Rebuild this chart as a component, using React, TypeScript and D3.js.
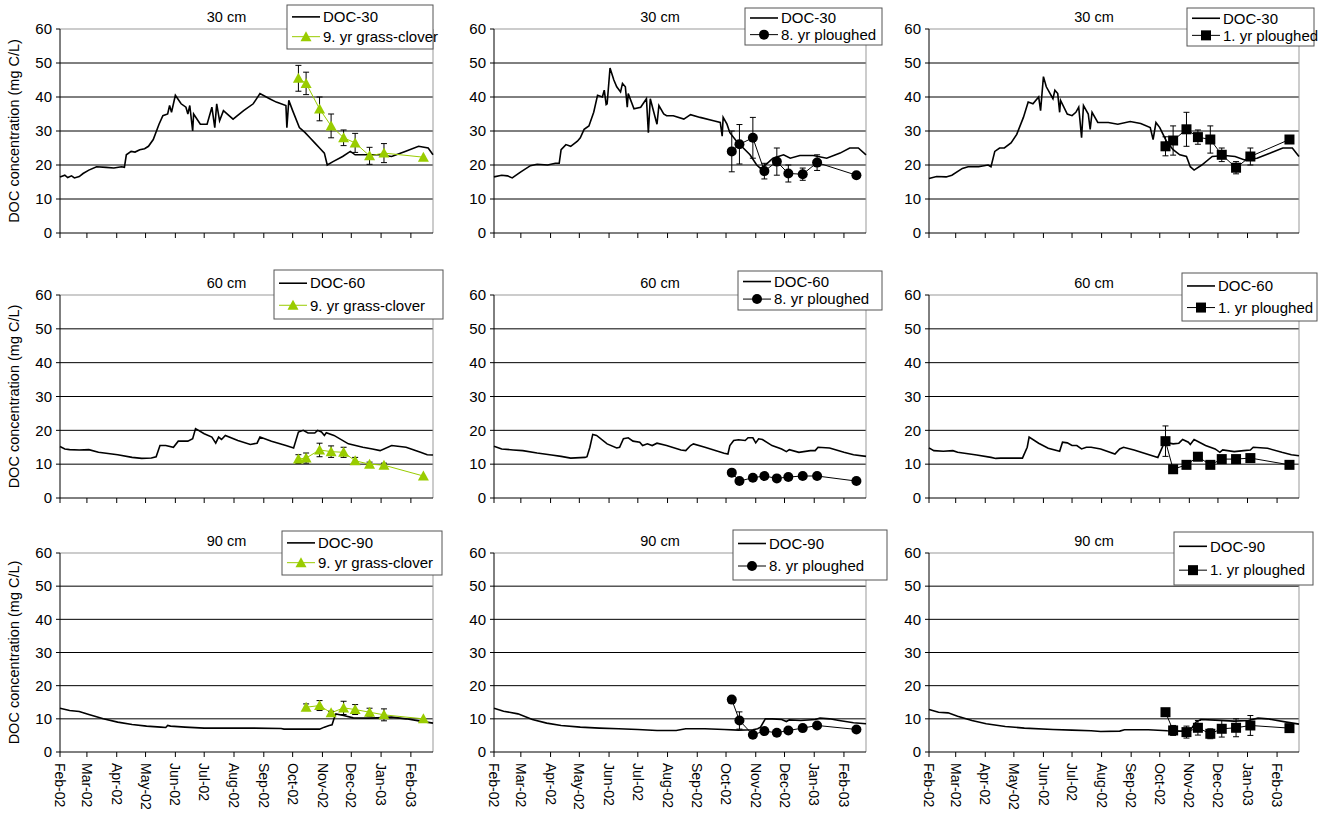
import React from 'react';
import * as d3 from 'd3';

// day offsets from 1 Feb 2002
const sampleDays = [248, 256, 270, 282, 295, 307, 322, 337, 378];
const monthLabels = ['Feb-02', 'Mar-02', 'Apr-02', 'May-02', 'Jun-02', 'Jul-02', 'Aug-02', 'Sep-02', 'Oct-02', 'Nov-02', 'Dec-02', 'Jan-03', 'Feb-03'];
const depths = ['30 cm', '60 cm', '90 cm'];
const treatments = ['9. yr grass-clover', '8. yr ploughed', '1. yr ploughed'];

// [day, value] DOC series per panel (row = depth, col = treatment plot)
const doc30a = [[0,16.5],[5,17],[8,16.3],[12,16.8],[15,16.2],[20,16.6],[24,17.5],[30,18.5],[38,19.5],[48,19.3],[56,19.1],[64,19.5],[67,19.3],[69,23],[74,24],[78,23.8],[83,24.5],[88,24.8],[92,25.5],[97,27.5],[103,32],[107,34.5],[112,35],[114,37.5],[116,35.5],[120,40.5],[126,38],[131,37],[133,35],[135,37.5],[138,30],[139,35],[146,32],[153,32],[158,37],[161,31],[163,38],[166,33],[170,36],[180,33.5],[191,36],[201,38],[208,41],[218,39.5],[225,38.5],[235,37.5],[236,31],[238,39],[242,36],[249,31],[255,29.5],[260,28],[265,26.5],[270,25],[275,23.5],[278,20],[284,21],[294,22.5],[302,24],[307,23],[318,23],[332,23],[345,22.5],[359,24],[373,25.5],[383,25],[388,23]];
const doc30b = [[0,16.5],[8,17],[14,16.8],[19,16.2],[28,18],[38,19.8],[45,20.2],[56,20],[64,20.5],[68,20.5],[70,24.5],[75,26],[80,25.5],[87,27],[90,28],[94,30.5],[99,31.5],[104,35.5],[108,40.5],[113,40],[115,42],[117,37.8],[118,38],[121,48.5],[125,45],[128,43],[132,41.5],[134,44],[137,43],[139,37],[140,41],[146,36.5],[153,37],[159,39.5],[161,29.5],[163,39.5],[169,33],[170,32],[172,37.5],[177,35],[180,34.5],[187,34.5],[198,33.5],[205,34.8],[215,34],[229,33],[236,32.5],[238,28.5],[239,34],[243,32],[246,29.5],[253,27],[260,25],[267,23],[274,20],[278,19],[283,20],[291,22],[302,23],[309,22],[319,22.8],[333,22.8],[347,22],[361,23.5],[371,25],[380,25],[388,23]];
const doc30c = [[0,16],[8,16.6],[18,16.5],[24,17],[35,19],[41,19.5],[52,19.5],[62,20],[65,19.5],[69,24],[74,25],[79,25],[86,26.5],[92,29],[99,34],[104,38.5],[109,38],[115,40],[117,36],[120,46],[123,43],[130,39.5],[132,42],[135,41],[137,35.5],[138,39],[145,35],[150,34.5],[154,35.5],[157,37],[160,28],[162,37.5],[167,35],[169,30.5],[171,35.5],[177,32.5],[188,32.5],[198,32],[211,32.8],[222,32.2],[232,31],[235,27.5],[238,32.5],[242,31],[249,27],[256,24.5],[263,23],[270,22.5],[274,19.5],[278,18.5],[286,20],[297,22.5],[310,22.8],[321,22.5],[331,21.5],[344,22],[358,23.5],[371,25],[381,25],[388,22.5]];
const doc60a = [[0,15.2],[5,14.5],[10,14.3],[20,14.2],[30,14.3],[40,13.5],[60,12.8],[75,12],[85,11.7],[95,11.8],[100,12.2],[104,15.5],[110,15.5],[118,15],[123,16.8],[133,16.8],[138,17.5],[141,20.5],[150,19],[158,18],[162,16.2],[165,18],[168,17.3],[172,18.5],[185,17],[198,15.8],[205,16.2],[208,18],[220,16.8],[235,15.5],[243,14.8],[248,19.5],[253,20],[258,19.2],[265,19.2],[268,20],[272,19.5],[275,18.5],[277,19.3],[285,18.5],[300,16],[315,15],[325,14.5],[333,14],[345,15.5],[360,15],[375,13.5],[382,12.8],[388,12.7]];
const doc60b = [[0,15.3],[8,14.5],[20,14.2],[30,14],[45,13.3],[60,12.7],[70,12.3],[80,11.8],[95,12],[97,12.2],[100,15],[103,18.8],[107,18.5],[118,16],[128,14.8],[131,15],[135,17.5],[140,17.8],[145,16.8],[152,16.5],[155,15.5],[160,16],[165,15.5],[170,16.2],[180,15.5],[195,14.2],[200,14],[205,15.5],[208,16],[220,15],[240,13.2],[244,13],[246,15.5],[250,17],[255,17.2],[262,17],[265,17.8],[270,17.8],[273,16.3],[276,17.5],[280,17.3],[290,15.5],[300,14.5],[305,13.7],[308,14.3],[318,13.5],[330,14],[335,14],[338,15],[350,14.8],[365,13.5],[375,12.8],[388,12.3]];
const doc60c = [[0,14.8],[5,14],[15,13.8],[25,14],[30,13.5],[50,12.7],[65,12],[70,11.7],[75,11.8],[98,11.8],[103,15],[105,18],[115,16.2],[125,14.7],[137,13.8],[140,16.5],[145,16.3],[150,15.5],[155,15.5],[160,14.5],[165,15],[170,15],[180,14.5],[195,13],[200,14.5],[204,15],[215,14.2],[240,12],[247,16.5],[256,16],[262,16.2],[266,17.3],[272,16.5],[274,15.8],[278,17.3],[290,15.5],[300,14.5],[305,13.5],[308,14.2],[320,13.7],[330,14],[337,14.2],[340,15],[355,14.7],[370,13.5],[380,12.8],[388,12.5]];
const doc90a = [[0,13.2],[10,12.5],[20,12.2],[30,11.3],[45,10],[60,9],[75,8.3],[90,7.8],[105,7.5],[110,7.4],[112,8],[115,7.8],[130,7.5],[150,7.2],[200,7.2],[230,7.1],[233,6.9],[270,6.9],[275,7.5],[280,8],[283,8.2],[285,10],[287,11.5],[295,11],[305,10.3],[320,10.2],[330,10.3],[345,10.5],[360,10],[375,9.3],[388,8.7]];
const doc90b = [[0,13.2],[10,12.3],[25,11.5],[40,9.8],[55,8.7],[70,8],[90,7.5],[110,7.2],[130,7],[150,6.8],[170,6.5],[190,6.5],[200,7],[220,7],[240,6.8],[255,6.6],[270,6.7],[275,7],[278,7.5],[283,10],[290,10],[300,9.8],[305,9.2],[308,9.7],[320,9.5],[335,9.8],[340,10.2],[350,10],[360,9.5],[375,8.8],[388,8.5]];
const doc90c = [[0,12.8],[10,12],[20,11.8],[30,10.8],[45,9.5],[60,8.5],[80,7.7],[100,7.2],[130,6.8],[150,6.6],[170,6.4],[180,6.2],[200,6.3],[205,6.7],[230,6.7],[250,6.4],[265,6.3],[275,7],[280,9],[285,9.8],[300,9.6],[320,9.3],[335,9.5],[345,10.2],[355,10],[375,9],[388,8.4]];

// measured values and half error bars, aligned with sampleDays (null = no sample)
const grass30 = [45.5, 44, 36.5, 31.5, 28, 26.5, 22.7, 23.5, 22.3];
const grass30Err = [3.8, 3.3, 3.5, 3.5, 2.3, 2.8, 2.5, 2.8, 0];
const grass60 = [11.5, 11.8, 14.2, 13.7, 13.5, 11, 10, 9.7, 6.5];
const grass60Err = [1.3, 1.5, 2, 1.7, 1.5, 1, 0.6, 0.6, 0];
const grass90 = [null, 13.5, 14, 11.8, 13.3, 12.8, 12, 11.2, 10];
const grass90Err = [0, 1, 1.5, 0.5, 2, 1.5, 1.2, 1.8, 0];
const plough8_30 = [24, 26.1, 28, 18.2, 21, 17.5, 17.3, 20.7, 17];
const plough8_30Err = [6, 5.8, 6, 2.3, 4, 2.5, 1.8, 2.3, 0];
const plough8_60 = [7.5, 5, 6, 6.5, 5.8, 6.2, 6.5, 6.5, 5];
const plough8_60Err = [0, 0, 0, 0, 0, 0, 0, 0, 0];
const plough8_90 = [15.8, 9.5, 5.2, 6.3, 5.8, 6.5, 7.2, 8, 6.8];
const plough8_90Err = [0, 2.6, 0, 0, 0, 0, 0, 0, 0];
const plough1_30 = [25.5, 27.2, 30.5, 28.2, 27.5, 23, 19.2, 22.5, 27.5];
const plough1_30Err = [2.8, 4.3, 5, 2.1, 4, 2, 1.8, 2.5, 0];
const plough1_60 = [16.8, 8.5, 9.8, 12.2, 9.8, 11.5, 11.5, 11.8, 9.8];
const plough1_60Err = [4.5, 0, 0, 0, 0, 0, 0, 0, 0];
const plough1_90 = [12, 6.5, 6, 7.3, 5.5, 7, 7.3, 8, 7.2];
const plough1_90Err = [0, 1.5, 1.8, 2.2, 1.5, 2.5, 2.7, 3, 1];

const docSeries = [[doc30a, doc30b, doc30c], [doc60a, doc60b, doc60c], [doc90a, doc90b, doc90c]];
const obsSeries = [[grass30, plough8_30, plough1_30], [grass60, plough8_60, plough1_60], [grass90, plough8_90, plough1_90]];
const obsErr = [[grass30Err, plough8_30Err, plough1_30Err], [grass60Err, plough8_60Err, plough1_60Err], [grass90Err, plough8_90Err, plough1_90Err]];

// layout
const colX = [[60, 433], [494, 866], [929, 1299]];
const rowY = [[29, 233], [295, 498], [553, 752]];
const legendBox = [
  [[287, 5, 146, 44], [745, 8, 137, 37], [1187, 8, 127, 38]],
  [[274, 270, 169, 49], [738, 271, 144, 39], [1182, 273, 135, 48]],
  [[282, 531, 160, 44], [733, 530, 154, 50], [1174, 532, 139, 53]],
];
const green = '#99cc00';
const font = 'Liberation Sans, Arial, sans-serif';
const t0 = Date.UTC(2002, 1, 1);
const day = (d: number) => new Date(t0 + d * 86400000);

function Marker({ kind, x, y }: { kind: number; x: number; y: number }) {
  if (kind === 0) return <path d={`M${x},${y - 5.5}L${x + 5.5},${y + 4.5}L${x - 5.5},${y + 4.5}Z`} fill={green} />;
  if (kind === 1) return <circle cx={x} cy={y} r={5} fill="#000" />;
  return <rect x={x - 5} y={y - 5} width={10} height={10} fill="#000" />;
}

function Panel({ r, c }: { r: number; c: number }) {
  const [x0, x1] = colX[c];
  const [y0, y1] = rowY[r];
  const x = d3.scaleUtc().domain([day(0), day(388)]).range([x0, x1]);
  const y = d3.scaleLinear().domain([0, 60]).range([y1, y0]);
  const months = d3.utcMonth.range(day(0), day(389));
  const line = d3.line<number[]>().x(d => x(day(d[0]))).y(d => y(d[1]));
  const obs = sampleDays.map((d, i) => ({ d, v: obsSeries[r][c][i], e: obsErr[r][c][i] })).filter(o => o.v != null) as { d: number; v: number; e: number }[];
  const obsLine = d3.line<{ d: number; v: number }>().x(o => x(day(o.d))).y(o => y(o.v));
  const col = c === 0 ? green : '#000';
  const [lx, ly, lw, lh] = legendBox[r][c];
  return (
    <g fontFamily={font}>
      {y.ticks(6).filter(t => t > 0 && t < 60).map(t => (
        <line key={t} x1={x0} x2={x1} y1={y(t)} y2={y(t)} stroke="#000" strokeWidth={1} />
      ))}
      <line x1={x0} x2={x1} y1={y0} y2={y0} stroke="#999" />
      <line x1={x1} x2={x1} y1={y0} y2={y1} stroke="#999" />
      <line x1={x0} x2={x0} y1={y0} y2={y1} stroke="#000" />
      <line x1={x0} x2={x1} y1={y1} y2={y1} stroke="#000" />
      {y.ticks(6).map(t => (
        <g key={t}>
          <line x1={x0 - 4} x2={x0} y1={y(t)} y2={y(t)} stroke="#000" />
          <text x={x0 - 8} y={y(t)} dy="0.35em" textAnchor="end" fontSize={15}>{t}</text>
        </g>
      ))}
      {months.map((m, i) => (
        <g key={i}>
          <line x1={x(m)} x2={x(m)} y1={y1} y2={y1 + 5} stroke="#000" />
          {r === 2 && (
            <text transform={`translate(${x(m)},${y1 + 11}) rotate(90)`} dy="0.35em" fontSize={14}>{monthLabels[i]}</text>
          )}
        </g>
      ))}
      <path d={line(docSeries[r][c] as number[][]) || ''} fill="none" stroke="#000" strokeWidth={1.6} />
      <path d={obsLine(obs) || ''} fill="none" stroke={col} strokeWidth={1} />
      {obs.filter(o => o.e > 0).map((o, i) => {
        const cx = x(day(o.d));
        return (
          <g key={i} stroke="#000" strokeWidth={1}>
            <line x1={cx} x2={cx} y1={y(o.v - o.e)} y2={y(o.v + o.e)} />
            <line x1={cx - 3} x2={cx + 3} y1={y(o.v - o.e)} y2={y(o.v - o.e)} />
            <line x1={cx - 3} x2={cx + 3} y1={y(o.v + o.e)} y2={y(o.v + o.e)} />
          </g>
        );
      })}
      {obs.map((o, i) => <Marker key={i} kind={c} x={x(day(o.d))} y={y(o.v)} />)}
      <text x={(x0 + x1) / 2 - 20} y={y0 - 12} dy="0.35em" textAnchor="middle" fontSize={14.5}>{depths[r]}</text>
      {c === 0 && (
        <text transform={`translate(${x0 - 41},${(y0 + y1) / 2}) rotate(-90)`} textAnchor="middle" fontSize={14.5}>DOC concentration (mg C/L)</text>
      )}
      <rect x={lx} y={ly} width={lw} height={lh} fill="#fff" stroke="#555" />
      <line x1={lx + 5} x2={lx + 33} y1={ly + lh * 0.27} y2={ly + lh * 0.27} stroke="#000" strokeWidth={1.6} />
      <text x={lx + 36} y={ly + lh * 0.27} dy="0.35em" fontSize={15}>{`DOC-${depths[r].slice(0, 2)}`}</text>
      <line x1={lx + 5} x2={lx + 33} y1={ly + lh * 0.72} y2={ly + lh * 0.72} stroke={col} strokeWidth={1} />
      <Marker kind={c} x={lx + 19} y={ly + lh * 0.72} />
      <text x={lx + 36} y={ly + lh * 0.72} dy="0.35em" fontSize={15}>{treatments[c]}</text>
    </g>
  );
}

export default function App() {
  return (
    <svg width={1318} height={817} style={{ position: 'absolute', left: 0, top: 0, background: '#fff' }}>
      {[0, 1, 2].map(r => [0, 1, 2].map(c => <Panel key={`${r}-${c}`} r={r} c={c} />))}
    </svg>
  );
}
